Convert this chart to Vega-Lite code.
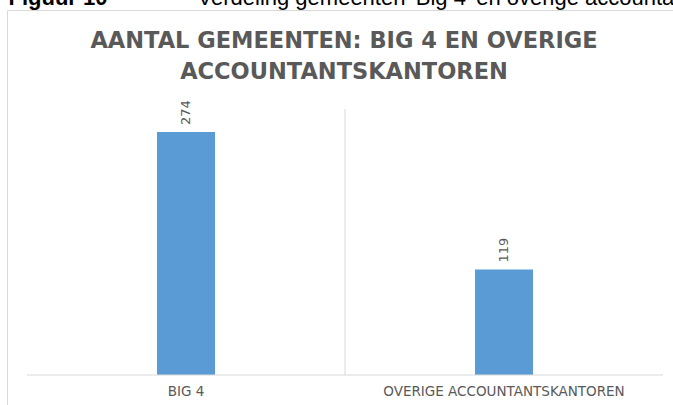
{
  "$schema": "https://vega.github.io/schema/vega-lite/v6.json",
  "width": 666,
  "height": 395,
  "autosize": {"type": "none"},
  "padding": {"left": 7, "top": 10, "right": 0, "bottom": 0},
  "background": "white",
  "config": {"view": {"stroke": "#d9d9d9", "strokeWidth": 1}},
  "title": {
    "text": ["AANTAL GEMEENTEN: BIG 4 EN OVERIGE", "ACCOUNTANTSKANTOREN"],
    "anchor": "middle",
    "frame": "group",
    "font": "DejaVu Sans",
    "fontSize": 22.5,
    "fontWeight": "bold",
    "color": "#595959",
    "lineHeight": 31,
    "offset": -97,
    "dx": 4
  },
  "datasets": {
    "bars": [
      {"categorie": "BIG 4", "aantal": 274},
      {"categorie": "OVERIGE ACCOUNTANTSKANTOREN", "aantal": 119}
    ],
    "divider": [{"categorie": "OVERIGE ACCOUNTANTSKANTOREN"}],
    "baseline": [{"van": "BIG 4", "tot": "OVERIGE ACCOUNTANTSKANTOREN"}]
  },
  "layer": [
    {
      "data": {"name": "bars"},
      "mark": {"type": "bar", "color": "#5B9BD5", "width": {"band": 0.1824}},
      "encoding": {
        "x": {
          "field": "categorie",
          "type": "nominal",
          "sort": null,
          "scale": {
            "domain": ["BIG 4", "OVERIGE ACCOUNTANTSKANTOREN"],
            "paddingInner": 0,
            "paddingOuter": 0.04717,
            "align": 0.6667
          },
          "axis": {
            "orient": "bottom",
            "offset": -30,
            "domain": false,
            "ticks": false,
            "tickSize": 0,
            "grid": false,
            "labelAngle": 0,
            "labelFont": "DejaVu Sans",
            "labelFontSize": 13.5,
            "labelColor": "#595959",
            "labelPadding": 9,
            "labelLimit": 0,
            "title": "Verdeling gemeenten 'Big 4' en overige accountantskantoren",
            "titleFont": "Liberation Sans",
            "titleFontSize": 22,
            "titleFontWeight": "normal",
            "titleColor": "#000000",
            "titleAngle": 0,
            "titleAlign": "left",
            "titleBaseline": "alphabetic",
            "titleLimit": 3000,
            "titleX": 190,
            "titleY": -371
          }
        },
        "y": {
          "field": "aantal",
          "type": "quantitative",
          "scale": {"domain": [-33.83, 411.65], "nice": false, "zero": false},
          "axis": {
            "domain": false,
            "ticks": false,
            "labels": false,
            "grid": false,
            "title": "Figuur 10",
            "titleFont": "Liberation Sans",
            "titleFontSize": 22,
            "titleFontWeight": "bold",
            "titleColor": "#000000",
            "titleAngle": 0,
            "titleAlign": "left",
            "titleBaseline": "alphabetic",
            "titleLimit": 3000,
            "titleX": 1,
            "titleY": -6
          }
        },
        "y2": {"datum": 0}
      }
    },
    {
      "data": {"name": "divider"},
      "mark": {"type": "rule", "color": "#d9d9d9", "strokeWidth": 1},
      "encoding": {
        "x": {"field": "categorie", "type": "nominal", "bandPosition": 0},
        "y": {"datum": 300, "type": "quantitative"},
        "y2": {"datum": 0}
      }
    },
    {
      "data": {"name": "baseline"},
      "mark": {"type": "rule", "color": "#d9d9d9", "strokeWidth": 1},
      "encoding": {
        "x": {"field": "van", "type": "nominal", "bandPosition": 0},
        "x2": {"field": "tot", "bandPosition": 1},
        "y": {"datum": 0, "type": "quantitative"}
      }
    },
    {
      "data": {"name": "bars"},
      "mark": {
        "type": "text",
        "angle": 270,
        "align": "left",
        "baseline": "middle",
        "dx": 7,
        "font": "DejaVu Sans",
        "fontSize": 13,
        "color": "#595959"
      },
      "encoding": {
        "x": {"field": "categorie", "type": "nominal"},
        "y": {"field": "aantal", "type": "quantitative"},
        "text": {"field": "aantal", "type": "quantitative"}
      }
    }
  ]
}
